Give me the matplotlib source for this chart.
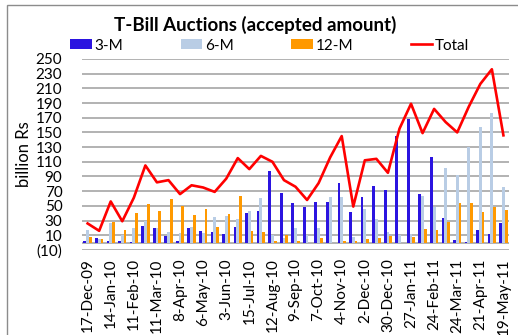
import numpy as np
import matplotlib
matplotlib.use('Agg')
import matplotlib.pyplot as plt
from matplotlib.ticker import FuncFormatter
from matplotlib.patches import Rectangle

plt.rcParams['font.family'] = ['Lato', 'DejaVu Sans']

# auction dates (fortnightly), billion Rs accepted
dates = ['17-Dec-09', '31-Dec-09', '14-Jan-10', '28-Jan-10', '11-Feb-10', '25-Feb-10',
         '11-Mar-10', '25-Mar-10', '8-Apr-10', '22-Apr-10', '6-May-10', '20-May-10',
         '3-Jun-10', '1-Jul-10', '15-Jul-10', '29-Jul-10', '12-Aug-10', '26-Aug-10',
         '9-Sep-10', '23-Sep-10', '7-Oct-10', '21-Oct-10', '4-Nov-10', '18-Nov-10',
         '2-Dec-10', '16-Dec-10', '30-Dec-10', '13-Jan-11', '27-Jan-11', '10-Feb-11',
         '24-Feb-11', '10-Mar-11', '24-Mar-11', '7-Apr-11', '21-Apr-11', '5-May-11',
         '19-May-11']
m3 = [2, 6, 1.5, 2, 1, 22, 20, 9, 2, 20, 16, 14, 12, 21, 40, 43, 97, 68, 54, 49,
      55, 55, 81, 41, 62, 77, 71, 145, 168, 66, 116, 34, 3.5, 1, 17, 12, 26]
m6 = [17, 5, 27, 10, 20, 30, 20, 15, 13, 21, 13, 35, 36, 32, 43, 61, 10, 6, 20, 10,
      20, 62, 62, 7, 46, 32, 15, 10, 12, 63, 49, 102, 92, 130, 158, 176, 76]
m12 = [7, 5, 28, 17, 40, 53, 43, 60, 50, 37, 46, 21, 39, 63, 16, 14, 2, 10, 2, 0,
       6, 0, 2, 2, 5, 6, 9, 0, 8, 18, 17, 28, 54, 54, 42, 48, 44]
total = [26, 16, 56, 29, 61, 105, 82, 85, 66, 78, 75, 69, 87, 115, 100, 118, 110, 85,
         76, 58, 81, 116, 145, 49, 112, 114, 95, 155, 189, 149, 182, 164, 150, 185,
         216, 236, 146]

fig = plt.figure(figsize=(5.18, 3.35), dpi=100)
ax = fig.add_axes([0.158, 0.254, 0.825, 0.570])

# chart border
fig.patches.append(Rectangle((7 / 518, -0.01), 1.0, 1 - 5 / 335 + 0.01,
                             transform=fig.transFigure, fill=False,
                             edgecolor='#8c8c8c', linewidth=1.0))

x = np.arange(len(dates))
w = 0.24
b1 = ax.bar(x - w, m3, w, color='#2b14e0', label='3-M', zorder=3)
b2 = ax.bar(x, m6, w, color='#b9cde5', label='6-M', zorder=3)
b3 = ax.bar(x + w, m12, w, color='#ff9900', label='12-M', zorder=3)
ln, = ax.plot(x, total, color='#ff0000', linewidth=1.9, label='Total', zorder=4)

ax.set_xlim(-0.5, len(dates) - 0.5)
ax.set_ylim(-10, 250)
yt = np.arange(-10, 251, 20)
ax.set_yticks(yt)
ax.yaxis.set_major_formatter(FuncFormatter(lambda v, p: '(%d)' % -v if v < 0 else '%d' % v))
for v in yt:
    ax.axhline(v, color='#a6a6a6', linewidth=1.2, zorder=1)
ax.axhline(0, color='#a6a6a6', linewidth=1.2, zorder=2)

ax.set_xticks(x[::2])
ax.set_xticklabels(dates[::2], rotation=90)
ax.tick_params(axis='y', length=0, pad=14, labelsize=11)
ax.tick_params(axis='x', length=0, pad=6, labelsize=11)
for s in ax.spines.values():
    s.set_visible(False)

ax.set_ylabel('billion Rs', fontsize=12, labelpad=3)

fig.text(0.492, 0.925, 'T-Bill Auctions (accepted amount)', ha='center', va='center',
         fontsize=13.5, fontweight='bold')
ax.legend([b1, b2, b3, ln], ['3-M', '6-M', '12-M', 'Total'],
          loc='center', bbox_to_anchor=(0.44, 1.07), ncol=4, frameon=False,
          fontsize=11, handlelength=1.4, handleheight=0.6, handletextpad=0.2,
          columnspacing=3.75, borderaxespad=0)

fig.savefig('out.png', dpi=100)
